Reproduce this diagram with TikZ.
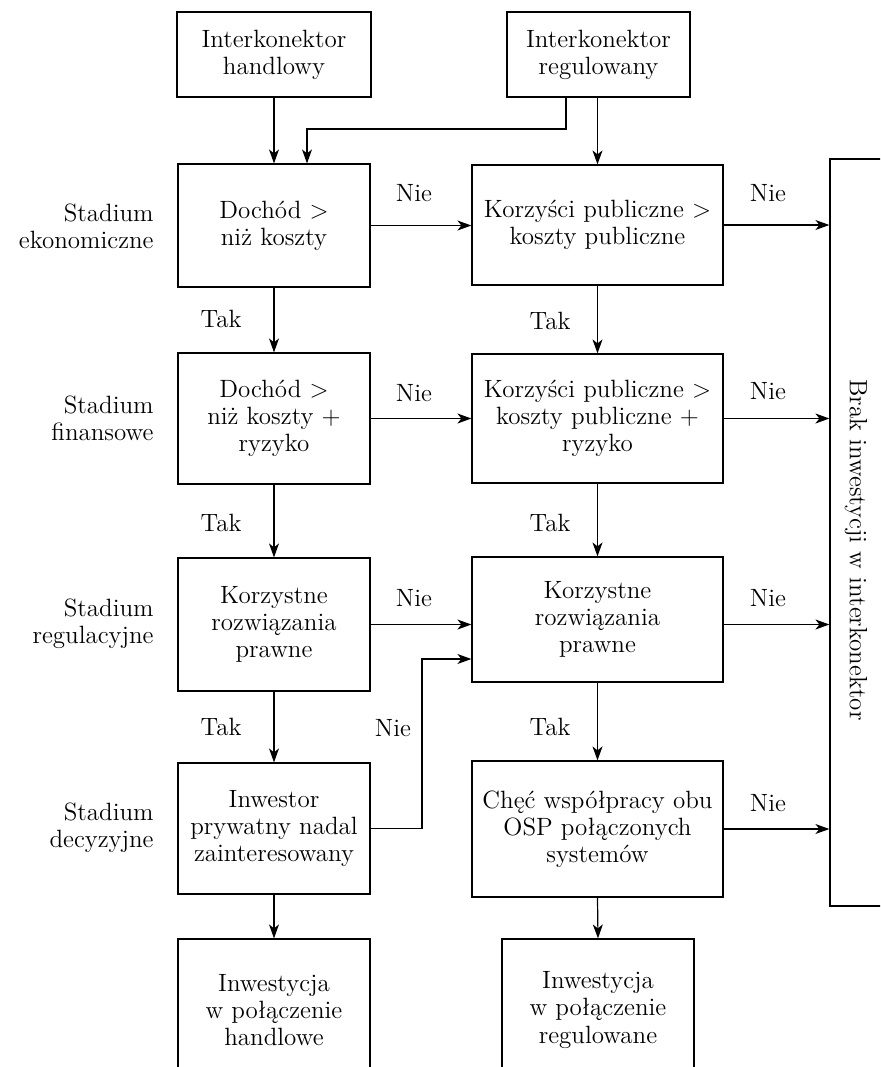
\documentclass[tikz,border=0pt]{standalone}
\usetikzlibrary{arrows.meta,calc}
\begin{document}
\begin{tikzpicture}[x=0.5pt,y=-0.5pt,
  every node/.style={font=\fontsize{12.5}{13.6}\selectfont},
  box/.style={draw,line width=0.6pt,align=center,inner sep=0pt},
  lbl/.style={align=center,inner sep=0pt},
  stage/.style={align=right,inner sep=0pt,anchor=east},
  arr/.style={line width=0.6pt,-{Stealth[length=7pt,width=5pt,inset=2pt]}},
  ln/.style={line width=0.6pt}]
\clip (0,0) rectangle (880,1067);
\useasboundingbox (0,0) rectangle (880,1067);
% top boxes
\node[box,minimum width=97pt,minimum height=42.5pt] (ih) at (274,54.5) {Interkonektor\\handlowy};
\node[box,minimum width=91.5pt,minimum height=42.5pt] (ir) at (598.5,54.5) {Interkonektor\\regulowany};
% left column
\node[box,minimum width=96pt,minimum height=61.5pt] (d1) at (274,225.5) {Dochód >\\niż koszty};
\node[box,minimum width=96pt,minimum height=65.5pt] (d2) at (274,418.5) {Dochód >\\niż koszty +\\ryzyko};
\node[box,minimum width=96pt,minimum height=66.5pt] (d3) at (274,624.5) {Korzystne\\rozwiązania\\prawne};
\node[box,minimum width=96pt,minimum height=65.5pt] (d4) at (274,828.5) {Inwestor\\prywatny nadal\\zainteresowany};
\node[box,minimum width=96pt,minimum height=71pt] (b1) at (274,1010) {Inwestycja\\w połączenie\\handlowe};
% right column
\node[box,minimum width=125.5pt,minimum height=60pt] (k1) at (597.5,225) {Korzyści publiczne >\\koszty publiczne};
\node[box,minimum width=125.5pt,minimum height=64.5pt] (k2) at (597.5,418.5) {Korzyści publiczne >\\koszty publiczne +\\ryzyko};
\node[box,minimum width=125.5pt,minimum height=62.5pt] (k3) at (597.5,619.5) {Korzystne\\rozwiązania\\prawne};
\node[box,minimum width=125.5pt,minimum height=68pt] (k4) at (597.5,829) {Chęć współpracy obu\\OSP połączonych\\systemów};
\node[box,minimum width=96pt,minimum height=71pt] (b2) at (598,1010) {Inwestycja\\w połączenie\\regulowane};
% tall box
\node[draw,line width=0.6pt,minimum width=50pt,minimum height=373.5pt,inner sep=0pt] (brak) at (880,532.5) {};
\node[lbl,rotate=-90] (braktxt) at (856,550) {Brak inwestycji w interkonektor};
% stage labels
\node[stage] (s1) at (154,226) {Stadium\\ekonomiczne};
\node[stage] (s2) at (154,418) {Stadium\\finansowe};
\node[stage] (s3) at (154,624) {Stadium\\regulacyjne};
\node[stage] (s4) at (154,828) {Stadium\\decyzyjne};
% top connectors
\draw[arr] (ih.south) -- (ih.south |- d1.north);
\coordinate (c1) at (566,129);
\coordinate (c2) at (307,129);
\draw[arr] (ir.south -| c1) -- (c1) -- (c2) -- (c2 |- d1.north);
\draw[arr] (ir.south -| k1.north) -- (k1.north);
% vertical Tak arrows
\draw[arr] (d1.south) -- (d2.north);
\draw[arr] (d2.south) -- (d3.north);
\draw[arr] (d3.south) -- (d4.north);
\draw[arr] (d4.south) -- (b1.north);
\draw[arr] (k1.south) -- (k2.north);
\draw[arr] (k2.south) -- (k3.north);
\draw[arr] (k3.south) -- (k4.north);
\draw[arr] (k4.south) -- (b2.north);
% left Nie arrows
\draw[arr] (d1.east) -- (d1.east -| k1.west);
\draw[arr] (d2.east) -- (d2.east -| k2.west);
\draw[arr] (d3.east) -- (d3.east -| k3.west);
\coordinate (m) at (422,659);
\draw[arr] (d4.east) -| (m) -- (m -| k3.west);
% right Nie arrows
\draw[arr] (k1.east) -- (k1.east -| brak.west);
\draw[arr] (k2.east) -- (k2.east -| brak.west);
\draw[arr] ($(d3.east -| k3.east)$) -- (d3.east -| brak.west);
\draw[arr] (k4.east) -- (k4.east -| brak.west);
% labels
\node[lbl] (t1) at (221,319) {Tak};
\node[lbl] (t2) at (221,523) {Tak};
\node[lbl] (t3) at (221,727) {Tak};
\node[lbl] (t4) at (550,321) {Tak};
\node[lbl] (t5) at (550,523) {Tak};
\node[lbl] (t6) at (550,727) {Tak};
\node[lbl] (n1) at (414,193) {Nie};
\node[lbl] (n2) at (414,393) {Nie};
\node[lbl] (n3) at (414,598) {Nie};
\node[lbl] (n4) at (393,728) {Nie};
\node[lbl] (n5) at (768,193) {Nie};
\node[lbl] (n6) at (768,391) {Nie};
\node[lbl] (n7) at (768,598) {Nie};
\node[lbl] (n8) at (768,803) {Nie};
\end{tikzpicture}
\end{document}
